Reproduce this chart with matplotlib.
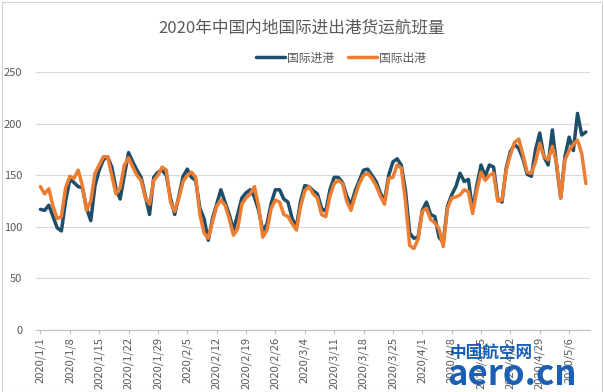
import numpy as np
import pandas as pd
import matplotlib
matplotlib.use("Agg")
import matplotlib.pyplot as plt
from matplotlib.patches import Rectangle

plt.rcParams["font.family"] = ["Noto Sans CJK SC", "DejaVu Sans"]

TITLE = "2020年中国内地国际进出港货运航班量"
SERIES_NAMES = ["国际进港", "国际出港"]

# daily values, 2020/1/1 .. 2020/5/10
dates = pd.date_range("2020-01-01", periods=131, freq="D")

inbound = [
    117, 116, 121, 110, 99, 96, 125, 146, 143, 139,
    138, 118, 106, 140, 155, 165, 168, 158, 137, 127,
    150, 172, 163, 155, 148, 130, 112, 148, 153, 155,
    150, 128, 112, 130, 149, 156, 148, 145, 118, 108,
    87, 108, 122, 136, 124, 112, 97, 112, 128, 133,
    136, 129, 116, 96, 103, 123, 136, 136, 127, 124,
    108, 100, 125, 140, 139, 135, 132, 118, 115, 136,
    148, 148, 143, 130, 121, 135, 145, 155, 156, 150,
    144, 133, 125, 150, 163, 166, 160, 135, 94, 89,
    90, 116, 124, 112, 110, 90, 85, 120, 131, 139,
    152, 144, 146, 116, 140, 160, 149, 160, 158, 127,
    124, 157, 173, 180, 176, 166, 151, 149, 175, 191,
    168, 160, 194, 160, 128, 168, 187, 174, 210, 189,
    192,
]

outbound = [
    139, 132, 137, 120, 108, 110, 138, 149, 147, 155,
    140, 116, 125, 152, 160, 168, 168, 150, 132, 138,
    160, 167, 158, 150, 145, 128, 122, 145, 150, 158,
    155, 124, 115, 128, 144, 150, 153, 148, 112, 94,
    89, 105, 120, 126, 121, 108, 92, 98, 122, 128,
    132, 139, 120, 90, 97, 118, 126, 124, 112, 110,
    103, 97, 120, 135, 139, 132, 128, 112, 110, 130,
    142, 145, 142, 125, 116, 130, 142, 150, 152, 147,
    140, 130, 122, 147, 148, 160, 157, 125, 82, 79,
    88, 115, 118, 107, 104, 98, 81, 118, 128, 129,
    131, 136, 134, 113, 135, 153, 145, 150, 152, 125,
    126, 155, 170, 182, 185, 170, 153, 152, 163, 181,
    168, 165, 178, 162, 128, 165, 174, 180, 184, 171,
    142,
]

y_ticks = [0, 50, 100, 150, 200, 250]

x = np.arange(len(dates))
tick_idx = x[::7]
tick_labels = [f"{d.year}/{d.month}/{d.day}" for d in dates[::7]]

fig = plt.figure(figsize=(6.04, 3.92), dpi=100)
fig.patch.set_facecolor("white")
fig.patches.append(Rectangle((0.004, 0.0), 0.992, 0.995, transform=fig.transFigure,
                             fill=False, edgecolor="#d0d0d0", linewidth=0.8))

ax = fig.add_axes([0.06, 0.158, 0.917, 0.658])
ax.plot(x, inbound, color="#1f4e6b", linewidth=2.5, solid_joinstyle="round",
        solid_capstyle="round", label=SERIES_NAMES[0], zorder=3)
ax.plot(x, outbound, color="#ed7d31", linewidth=2.5, solid_joinstyle="round",
        solid_capstyle="round", label=SERIES_NAMES[1], zorder=4)

ax.set_xlim(-1, 131)
ax.set_ylim(0, 250)
ax.set_yticks(y_ticks)
ax.yaxis.grid(True, color="#d9d9d9", linewidth=0.8)
ax.set_axisbelow(True)
for s in ["top", "right", "left"]:
    ax.spines[s].set_visible(False)
ax.spines["bottom"].set_color("#bfbfbf")
ax.tick_params(axis="y", length=0, pad=10, labelsize=8, labelcolor="#595959")
ax.set_xticks(tick_idx)
ax.set_xticklabels(tick_labels, rotation=90, fontsize=8, color="#595959")
ax.tick_params(axis="x", length=3, color="#bfbfbf", pad=2)

fig.text(0.5, 0.93, TITLE, ha="center", va="center", fontsize=12, color="#595959")
fig.legend(loc="center", bbox_to_anchor=(0.565, 0.852), ncol=2, frameon=False,
           fontsize=8.5, labelcolor="#595959", handlelength=2.4, handletextpad=0.2,
           columnspacing=1.2)

# watermark
fig.text(0.745, 0.1, "中国航空网", fontsize=12, fontweight="bold", color="#1a5fb4",
         ha="left", va="center", zorder=10)
fig.text(0.74, 0.045, "aero.cn", fontsize=25, fontweight="bold", color="#1a5fb4",
         ha="left", va="center", zorder=10)

fig.savefig("out.png", dpi=100)
